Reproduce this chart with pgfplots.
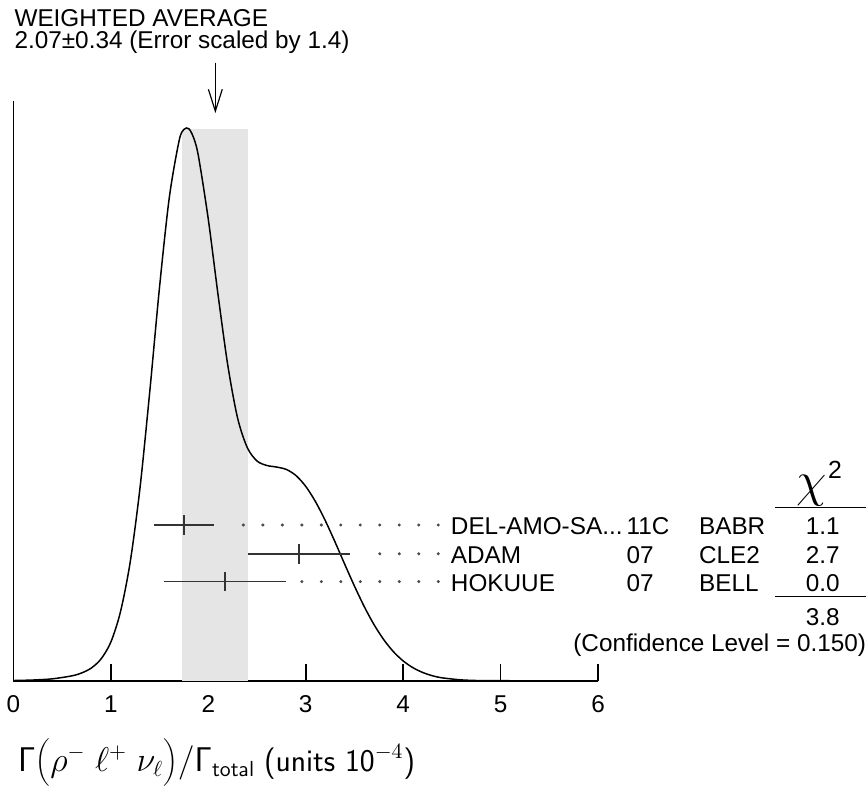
\documentclass[border=0pt]{standalone}
\usepackage[no-math]{fontspec}
\setmainfont{Liberation Sans}
\usepackage{pgfplots}
\pgfplotsset{compat=1.18}
% pixel of the reference -> axis coordinates (x: 98.2 px per unit from px 7.5, y: px above baseline 686)
\newcommand{\pxy}[2]{(axis cs:{(#1-7.5)/98.2},{686-#2})}
\newcommand{\tfont}{\fontsize{12.25}{14}\selectfont}
\begin{document}
\begin{tikzpicture}
\begin{axis}[
    width=294.6pt, height=292pt, scale only axis,
    xmin=0, xmax=6, ymin=0, ymax=584,
    axis lines*=left,
    axis line style={line width=0.75pt},
    xtick={0,1,2,3,4,5,6}, xticklabels={0,1,2,3,4,5,6},
    ytick=\empty,
    tick align=inside, major tick length=8.5pt,
    tick style={line width=0.75pt, black},
    xticklabel style={font=\tfont, anchor=base, yshift=-16pt},
    clip=false,
  ]
  % weighted average band 2.07 +- 0.34
  \addplot[draw=none, fill=gray!20] coordinates {(1.73,0) (2.41,0) (2.41,556) (1.73,556)} -- cycle;
  % ideogram
  \addplot[black, line width=0.75pt, smooth, tension=0.5] coordinates {
    (0,0.3) (0.2,0.8) (0.4,2.0) (0.6,5.0) (0.7,7.9) (0.8,12.9) (0.9,22.1)
    (1.0,39.0) (1.1,70.0) (1.2,120.5) (1.3,195.0) (1.4,292.0) (1.5,397.0)
    (1.6,487.0) (1.7,544.0) (1.75,555.6) (1.8,556.3) (1.85,547.0) (1.9,528.0)
    (2.0,465.0) (2.1,389.0) (2.2,318.0) (2.3,265.0) (2.4,235.0) (2.5,221.5)
    (2.6,217.0) (2.7,215.4) (2.8,213.0) (2.9,206.8) (3.0,195.9) (3.1,180.5)
    (3.2,161.5) (3.3,140.0) (3.4,117.4) (3.5,95.4) (3.6,74.8) (3.7,56.7)
    (3.8,41.5) (3.9,29.3) (4.0,20.0) (4.1,13.2) (4.2,8.4) (4.3,5.1)
    (4.4,3.0) (4.6,0.9) (4.8,0.2) (5.0,0.1) (5.5,0) (6.0,0)
  };
  % measurements
  \addplot[only marks, black!80, mark=|, mark size=5pt, mark options={line width=0.75pt},
    error bars/.cd, x dir=both, x explicit, error mark=none,
    error bar style={line width=0.75pt, black!80}]
    coordinates {(1.75,157) +- (0.305,0) (2.93,128) +- (0.52,0) (2.17,100) +- (0.625,0)};
  % dotted leaders
  \addplot[only marks, mark=*, mark size=0.55pt, black!70] coordinates {
    (2.36,157) (2.56,157) (2.76,157) (2.96,157) (3.16,157) (3.36,157)
    (3.56,157) (3.76,157) (3.96,157) (4.16,157) (4.36,157)
    (3.76,128) (3.96,128) (4.16,128) (4.36,128)
    (2.96,100) (3.16,100) (3.36,100) (3.56,100) (3.76,100) (3.96,100) (4.16,100) (4.36,100)
  };

  % arrow for the average
  \draw[line width=0.6pt] \pxy{211}{63} -- \pxy{211}{112};
  \draw[line width=0.6pt] \pxy{204}{90} -- \pxy{211}{112} -- \pxy{218}{90};
  \node[anchor=base west, inner sep=0, font=\tfont] at \pxy{8.3}{27} {WEIGHTED AVERAGE};
  \node[anchor=base west, inner sep=0, font=\tfont] at \pxy{8.3}{49.3} {2.07±0.34 (Error scaled by 1.4)};

  % table
  \node[anchor=base west, inner sep=0, font=\tfont] at \pxy{448}{539} {DEL-AMO-SA...};
  \node[anchor=base west, inner sep=0, font=\tfont] at \pxy{448}{567.5} {ADAM};
  \node[anchor=base west, inner sep=0, font=\tfont] at \pxy{448}{596} {HOKUUE};
  \node[anchor=base west, inner sep=0, font=\tfont] at \pxy{625}{539} {11C};
  \node[anchor=base west, inner sep=0, font=\tfont] at \pxy{625}{567.5} {07};
  \node[anchor=base west, inner sep=0, font=\tfont] at \pxy{625}{596} {07};
  \node[anchor=base west, inner sep=0, font=\tfont] at \pxy{698}{539} {BABR};
  \node[anchor=base west, inner sep=0, font=\tfont] at \pxy{698}{567.5} {CLE2};
  \node[anchor=base west, inner sep=0, font=\tfont] at \pxy{698}{596} {BELL};
  \node[anchor=base, inner sep=0, font=\tfont] at \pxy{823}{539} {1.1};
  \node[anchor=base, inner sep=0, font=\tfont] at \pxy{823}{567.5} {2.7};
  \node[anchor=base, inner sep=0, font=\tfont] at \pxy{823}{596} {0.0};
  \node[anchor=base, inner sep=0, font=\tfont] at \pxy{823}{630.7} {3.8};
  \node[anchor=base east, inner sep=0, font=\tfont] at \pxy{867}{656.7} {(Confidence Level = 0.150)};
  \node[anchor=base west, inner sep=0, font=\fontsize{24.88}{26}\selectfont] at \pxy{796}{500} {$\chi$};
  \node[anchor=base west, inner sep=0, font=\fontsize{12.5}{14}\selectfont] at \pxy{828}{482} {2};
  \draw[line width=0.6pt] \pxy{775}{511} -- \pxy{867}{511};
  \draw[line width=0.6pt] \pxy{775}{601} -- \pxy{867}{601};

  % axis title
  \node[anchor=base west, inner sep=0, font=\fontsize{15.9}{18}\selectfont] at \pxy{12}{777}
    {$\mathsf{\Gamma}\biggl(\rho^-\;\ell^+\;\nu_\ell\biggr)/\mathsf{\Gamma}_{\mathsf{total}}$\ \textsf{(units 10$^{-4}$)}};

  % page size of the reference
  \path \pxy{0}{0} rectangle \pxy{867}{795};
\end{axis}
\end{tikzpicture}
\end{document}
